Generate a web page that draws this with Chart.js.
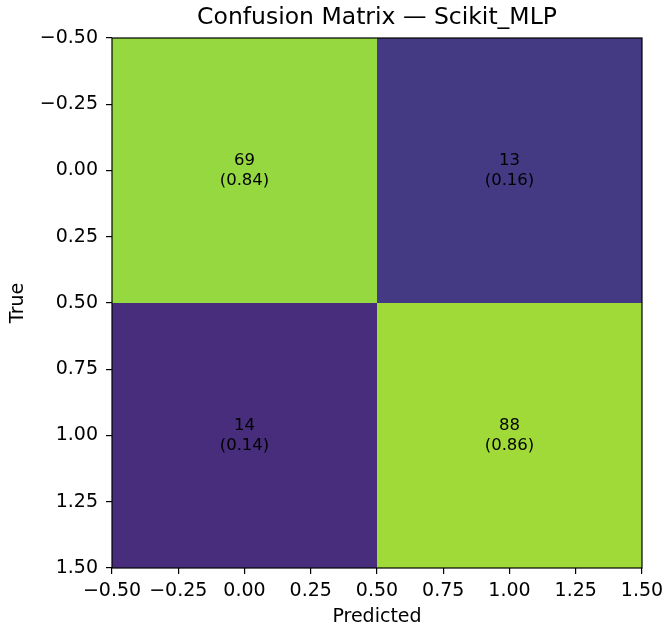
<!DOCTYPE html>
<html>
<head>
<meta charset="utf-8">
<script src="https://cdn.jsdelivr.net/npm/chart.js@4/dist/chart.umd.min.js"></script>
<style>
    body { margin: 0; background: #fff; }
    #wrap { width: 666px; height: 632px; }
</style>
</head>
<body>
<div id="wrap"><canvas id="cm"></canvas></div>
<script>
// class labels (row = true, column = predicted)
const classes = [0, 1];
const counts = [
    [69, 13],
    [14, 88]
];
const rates = [
    [0.84, 0.16],
    [0.14, 0.86]
];
const tickValues = [-0.5, -0.25, 0, 0.25, 0.5, 0.75, 1, 1.25, 1.5];
const cellColors = [
    ['#95d840', '#443983'],
    ['#472d7b', '#a0da39']
];

const FONT = 'DejaVu Sans';
const fmt = v => v.toFixed(2).replace('-', '\u2212');

const points = [];
classes.forEach(r => classes.forEach(c => points.push({ x: c, y: r })));

const matrixPlugin = {
    id: 'matrix',
    beforeDatasetsDraw(chart) {
        const { ctx, scales: { x, y } } = chart;
        ctx.save();
        classes.forEach((r, ri) => {
            classes.forEach((c, ci) => {
                const x0 = x.getPixelForValue(c - 0.5), x1 = x.getPixelForValue(c + 0.5);
                const y0 = y.getPixelForValue(r - 0.5), y1 = y.getPixelForValue(r + 0.5);
                ctx.fillStyle = cellColors[ri][ci];
                ctx.fillRect(x0, y0, x1 - x0, y1 - y0);
            });
        });
        ctx.fillStyle = '#000';
        ctx.font = '16.5px "' + FONT + '"';
        ctx.textAlign = 'center';
        ctx.textBaseline = 'middle';
        classes.forEach((r, ri) => {
            classes.forEach((c, ci) => {
                const cx = x.getPixelForValue(c), cy = y.getPixelForValue(r);
                ctx.fillText(String(counts[ri][ci]), cx, cy - 10);
                ctx.fillText('(' + rates[ri][ci].toFixed(2) + ')', cx, cy + 10);
            });
        });
        ctx.restore();
    },
    afterDraw(chart) {
        const { ctx, chartArea: a } = chart;
        ctx.save();
        ctx.strokeStyle = '#000';
        ctx.lineWidth = 1.2;
        ctx.strokeRect(a.left, a.top, a.right - a.left, a.bottom - a.top);
        // title centred over the plot area
        ctx.fillStyle = '#000';
        ctx.font = '23.5px "' + FONT + '"';
        ctx.textAlign = 'center';
        ctx.textBaseline = 'middle';
        ctx.fillText('Confusion Matrix \u2014 Scikit_MLP', (a.left + a.right) / 2, 18);
        ctx.restore();
    }
};

const axisCommon = {
    type: 'linear',
    min: -0.5,
    max: 1.5,
    afterBuildTicks: s => { s.ticks = tickValues.map(v => ({ value: v })); },
    grid: { drawOnChartArea: false, drawTicks: true, tickLength: 6, color: '#000', lineWidth: 1.2 },
    border: { display: false },
    ticks: {
        color: '#000',
        font: { family: FONT, size: 19 },
        maxRotation: 0,
        autoSkip: false,
        callback: v => fmt(v)
    }
};

new Chart(document.getElementById('cm'), {
    type: 'scatter',
    data: {
        datasets: [{ data: points, pointRadius: 0, pointHoverRadius: 0 }]
    },
    options: {
        responsive: true,
        maintainAspectRatio: false,
        animation: false,
        events: [],
        layout: { padding: { top: 38, right: 24, left: 0, bottom: 0 } },
        plugins: { legend: { display: false }, tooltip: { enabled: false }, title: { display: false } },
        scales: {
            x: {
                ...axisCommon,
                position: 'bottom',
                ticks: { ...axisCommon.ticks, padding: 6 },
                title: { display: true, text: 'Predicted', color: '#000', font: { family: FONT, size: 19 }, padding: { top: 0, bottom: 4 } },
                afterFit: s => { s.height = 64; s.paddingLeft = 0; s.paddingRight = 0; }
            },
            y: {
                ...axisCommon,
                reverse: true,
                ticks: { ...axisCommon.ticks, padding: 8 },
                title: { display: true, text: 'True', color: '#000', font: { family: FONT, size: 19 }, padding: { top: 7, bottom: 0 } },
                afterFit: s => { s.width = 112; s.paddingTop = 0; s.paddingBottom = 0; }
            }
        }
    },
    plugins: [matrixPlugin]
});
</script>
</body>
</html>
